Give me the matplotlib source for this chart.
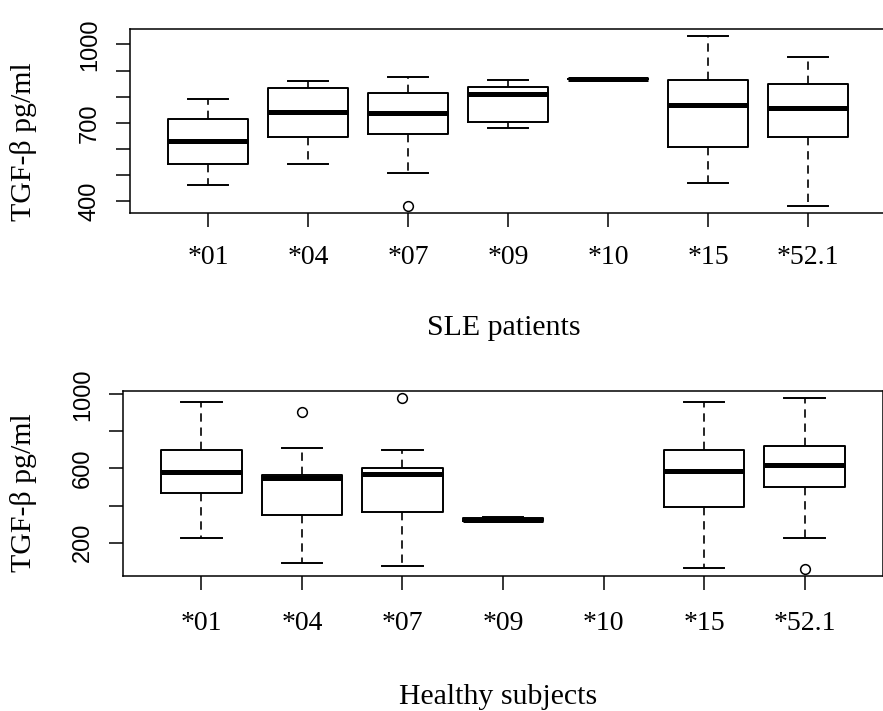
import numpy as np
import matplotlib
matplotlib.use("Agg")
import matplotlib.pyplot as plt

labels = ['*01', '*04', '*07', '*09', '*10', '*15', '*52.1']

# SLE patients (top panel)
sle_whislo = [461, 544, 508, 681, 866, 471, 381]
sle_q1 = [544, 645, 656, 705, 866, 607, 645]
sle_med = [632, 743, 737, 811, 866, 767, 755]
sle_q3 = [713, 835, 816, 836, 866, 864, 847]
sle_whishi = [792, 859, 877, 864, 866, 1033, 951]
sle_fliers = [[], [], [381], [], [], [], []]

# Healthy subjects (bottom panel), *10 has no data
hs_whislo = [227, 90, 72, 312, None, 61, 227]
hs_q1 = [468, 350, 366, 315, None, 391, 499]
hs_med = [582, 551, 568, 322, None, 584, 620]
hs_q3 = [699, 566, 602, 333, None, 699, 723]
hs_whishi = [957, 712, 699, 340, None, 957, 982]
hs_fliers = [[], [903], [982], [], [], [], [59]]

SERIF = ['Liberation Serif', 'DejaVu Serif']
SANS = ['Liberation Sans', 'DejaVu Sans']


def make_stats(lo, q1, med, q3, hi, fl):
    stats, pos = [], []
    for i in range(len(labels)):
        if med[i] is None:
            continue
        stats.append(dict(whislo=lo[i], q1=q1[i], med=med[i], q3=q3[i],
                          whishi=hi[i], fliers=fl[i], label=labels[i]))
        pos.append(i + 1)
    return stats, pos


def draw_panel(ax, stats, pos, ylim, yticks, ylabels, xpad):
    ax.bxp(stats, positions=pos, widths=0.8, capwidths=0.4,
           boxprops=dict(color='black', lw=1.4),
           whiskerprops=dict(color='black', lw=1.2, linestyle=(0, (5, 3.5))),
           capprops=dict(color='black', lw=1.4),
           medianprops=dict(color='black', lw=3.6, solid_capstyle='butt'),
           flierprops=dict(marker='o', markerfacecolor='none',
                           markeredgecolor='black', markersize=7, mew=1.1))
    ax.set_xlim(0.22, 7.78)
    ax.set_ylim(*ylim)
    ax.set_xticks(range(1, len(labels) + 1))
    ax.set_xticklabels(labels, family=SERIF, fontsize=20)
    ax.set_yticks(yticks)
    ax.set_yticklabels(ylabels, family=SANS, fontsize=17, rotation=90,
                       va='center')
    ax.tick_params(axis='x', length=10, width=1.1, pad=xpad)
    ax.tick_params(axis='y', length=10, width=1.1, pad=11)
    for s in ax.spines.values():
        s.set_linewidth(1.1)


fig = plt.figure(figsize=(8.83, 7.11), dpi=100)

ax1 = fig.add_axes([130 / 883, 1 - 213 / 711, 756 / 883, 184 / 711])
st, ps = make_stats(sle_whislo, sle_q1, sle_med, sle_q3, sle_whishi, sle_fliers)
yt1 = list(range(400, 1001, 100))
draw_panel(ax1, st, ps, (355, 1059), yt1,
           [str(v) if v in (400, 700, 1000) else '' for v in yt1], 13)

ax2 = fig.add_axes([123 / 883, 1 - 576 / 711, 760 / 883, 185 / 711])
st, ps = make_stats(hs_whislo, hs_q1, hs_med, hs_q3, hs_whishi, hs_fliers)
yt2 = list(range(200, 1001, 200))
draw_panel(ax2, st, ps, (20, 1018), yt2,
           [str(v) if v in (200, 600, 1000) else '' for v in yt2], 15)

fig.text(24 / 883, 1 - 142 / 711, 'TGF-β pg/ml', rotation=90, ha='center',
         va='center', family=SERIF, fontsize=21.5)
fig.text(24 / 883, 1 - 493 / 711, 'TGF-β pg/ml', rotation=90, ha='center',
         va='center', family=SERIF, fontsize=21.5)
fig.text(504 / 883, 1 - 328 / 711, 'SLE patients', ha='center', va='center',
         family=SERIF, fontsize=21.5)
fig.text(498 / 883, 1 - 697 / 711, 'Healthy subjects', ha='center',
         va='center', family=SERIF, fontsize=21.5)

fig.savefig('out.png', dpi=100)
